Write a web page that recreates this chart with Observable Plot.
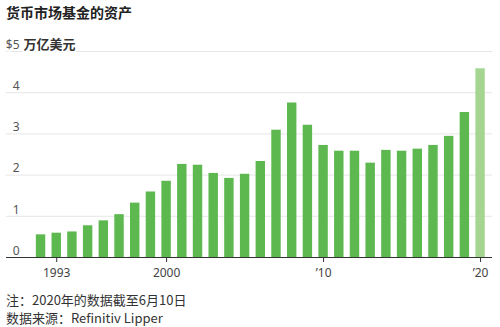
<!DOCTYPE html>
<html>
<head>
<meta charset="utf-8">
<script src="https://cdn.jsdelivr.net/npm/d3@7"></script>
<script src="https://cdn.jsdelivr.net/npm/@observablehq/plot@0.6"></script>
<style>
  body { margin: 0; background: #fff; font-family: "Noto Sans", "Noto Sans CJK SC", sans-serif; }
  #wrap { position: relative; width: 500px; height: 327px; overflow: hidden; }
  #title { position: absolute; left: 6px; top: 2px; font-size: 14px; line-height: 20px; font-weight: 700; color: #222; font-family: "Noto Sans CJK SC", sans-serif; }
  #chart { position: absolute; left: 0; top: 24px; }
  #foot { position: absolute; left: 6px; top: 291px; font-size: 13px; line-height: 18px; color: #333; font-family: "Noto Sans CJK SC", sans-serif; }
</style>
</head>
<body>
<div id="wrap">
  <div id="title">货币市场基金的资产</div>
  <div id="chart"></div>
  <div id="foot">注：2020年的数据截至6月10日<br>数据来源：Refinitiv Lipper</div>
</div>
<script>
const years = [1992,1993,1994,1995,1996,1997,1998,1999,2000,2001,2002,2003,2004,2005,2006,2007,2008,2009,2010,2011,2012,2013,2014,2015,2016,2017,2018,2019,2020];
const assets = [0.55,0.59,0.62,0.77,0.89,1.04,1.32,1.59,1.85,2.26,2.24,2.04,1.92,2.02,2.33,3.09,3.75,3.21,2.72,2.58,2.58,2.29,2.60,2.58,2.63,2.72,2.94,3.52,4.58];
const partialYear = 2020;
const xTicks = [1993, 2000, 2010, 2020];
const yTicks = [0, 1, 2, 3, 4, 5];
const unitLabel = "万亿美元";

const data = years.map((y, i) => ({year: y, value: assets[i], kind: y === partialYear ? "partial" : "full"}));

const chart = Plot.plot({
  width: 500,
  height: 261,
  marginLeft: 6,
  marginRight: 8,
  marginTop: 27,
  marginBottom: 28,
  style: {fontFamily: '"Noto Sans", "Noto Sans CJK SC", sans-serif', background: "white"},
  x: {type: "band", domain: years, paddingInner: 0.4, paddingOuter: 1.18, align: 0.805, round: false, axis: null},
  y: {domain: [0, 5], axis: null},
  color: {domain: ["full", "partial"], range: ["#5db84f", "#a6d592"]},
  marks: [
    Plot.ruleY(yTicks.filter(d => d > 0), {stroke: "#e6e6e6", strokeWidth: 1}),
    Plot.barY(data, {x: "year", y: "value", fill: "kind"}),
    Plot.ruleY([0], {stroke: "#333", strokeWidth: 1}),
    Plot.axisX(xTicks, {
      tickSize: 5, tickPadding: 6, stroke: "#333", fill: "#444", fontSize: 12, label: null,
      tickFormat: d => (d === 1993 || d === 2000) ? String(d) : "\u2019" + String(d).slice(2)
    }),
    Plot.text(yTicks, {
      y: d => d, text: d => d === 5 ? "$5" : String(d),
      frameAnchor: "left", textAnchor: "end", dx: 13, dy: -6.5,
      fill: "#555", fontSize: 12,
      stroke: d => d === 5 ? "white" : "none", strokeWidth: 4
    }),
    Plot.text([5], {
      y: d => d, text: () => unitLabel,
      frameAnchor: "left", textAnchor: "start", dx: 17, dy: -6.5,
      fill: "#333", fontSize: 13, fontWeight: "bold",
      fontFamily: '"Noto Sans CJK SC", sans-serif',
      stroke: "white", strokeWidth: 4
    })
  ]
});
document.getElementById("chart").appendChild(chart);
</script>
</body>
</html>
